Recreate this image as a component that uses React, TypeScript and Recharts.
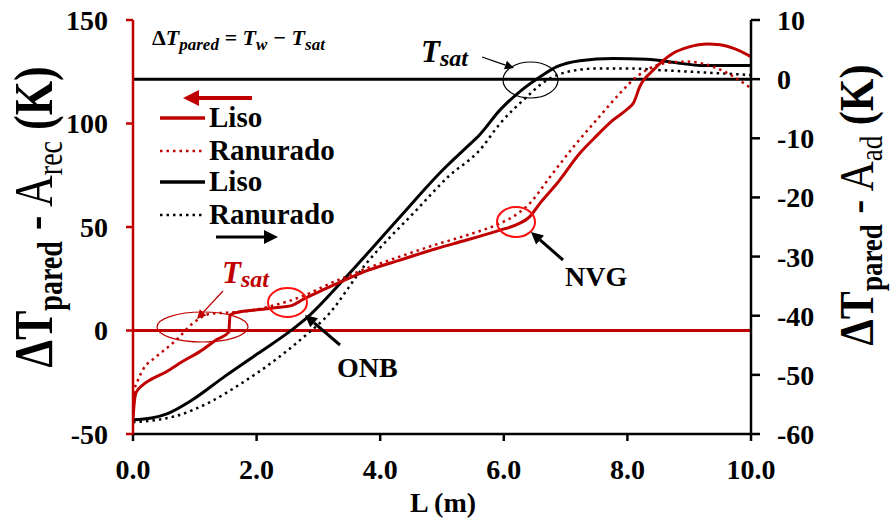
import React from "react";
import { LineChart, Line, XAxis, YAxis, ReferenceLine } from "recharts";

const RED = "#c00000";
const BRIGHT = "#ff1010";
const FONT = "'Liberation Serif', 'Times New Roman', serif";

// L (m)
const xTicks = [0, 2, 4, 6, 8, 10];
const leftTicks = [-50, 0, 50, 100, 150];
const rightTicks = [-60, -50, -40, -30, -20, -10, 0, 10];

// Red series (left axis, ΔT_pared - A_rec)
const redLisoL = [0, 0.02, 0.05, 0.16, 0.3, 0.54, 0.8, 1.08, 1.35, 1.55, 1.57, 1.65, 2.0, 2.3, 2.56, 2.78, 3.1, 3.4, 3.8, 4.32, 4.9, 5.4, 5.94, 6.2, 6.42, 6.6, 6.86, 7.23, 7.5, 7.77, 8.0, 8.1, 8.2, 8.42, 8.74, 9.0, 9.29, 9.5, 9.72, 10];
const redLisoV = [-43, -35, -30, -26.3, -23.5, -19.9, -15, -10.2, -4.5, -0.8, 7.5, 8.5, 10, 11, 12, 15.5, 20, 24, 29, 34, 39.5, 43.7, 48.5, 51, 55, 62, 71, 85.6, 94, 101.7, 107, 110, 117.8, 125.8, 133.9, 137, 138.4, 138, 136.3, 132.3];

const redRanL = [0, 0.03, 0.08, 0.16, 0.38, 0.7, 0.97, 1.24, 1.51, 1.8, 2.3, 2.78, 3.1, 3.78, 4.3, 4.9, 5.4, 5.94, 6.15, 6.42, 6.75, 7.13, 7.5, 7.88, 8.15, 8.31, 8.58, 8.96, 9.39, 9.72, 10];
const redRanV = [-40, -28, -24, -19, -12.6, -4.6, 3.5, 8, 8.6, 9.2, 12.3, 17, 21.5, 30, 35.5, 41.5, 46, 51.8, 55, 61.4, 74.3, 88.8, 101.7, 114.6, 122.6, 125.8, 129, 129.9, 127.4, 122.6, 117];

// Black series (right axis, ΔT_pared - A_ad)
const blkLisoL = [0, 0.3, 0.57, 0.95, 1.48, 2.02, 2.57, 2.83, 3.4, 4.32, 5.0, 5.4, 5.61, 5.94, 6.26, 6.59, 6.86, 7.23, 7.77, 8.31, 8.85, 9.18, 10];
const blkLisoV = [-57.6, -57.3, -56.5, -54.3, -50.3, -46.4, -42.4, -40.2, -34, -23.3, -15.5, -11.5, -9.4, -5.2, -2.1, 0.4, 2.1, 3.1, 3.5, 3.35, 2.7, 2.3, 2.3];

const blkRanL = [0, 0.4, 0.68, 1.21, 1.76, 2.3, 2.83, 3.1, 3.78, 4.59, 5.1, 5.61, 5.94, 6.32, 6.7, 7.02, 7.5, 8.04, 8.58, 9.12, 10];
const blkRanV = [-58, -57.6, -57, -54.8, -51.4, -47.5, -43, -40.5, -31.1, -22.1, -16.5, -12, -7.5, -3.5, -0.15, 1.2, 1.8, 1.8, 1.5, 1.2, 0.7];

const zip = (xs: number[], ys: number[]) => xs.map((L, i) => ({ L, v: ys[i] }));
const redLiso = zip(redLisoL, redLisoV);
const redRan = zip(redRanL, redRanV);
const blkLiso = zip(blkLisoL, blkLisoV);
const blkRan = zip(blkRanL, blkRanV);

function Arrow({ x1, y1, x2, y2, color, width, head }: any) {
  const ang = Math.atan2(y2 - y1, x2 - x1);
  const len = head;
  const w = head * 0.5;
  const bx = x2 - Math.cos(ang) * len;
  const by = y2 - Math.sin(ang) * len;
  const px = -Math.sin(ang) * w;
  const py = Math.cos(ang) * w;
  return (
    <g>
      <line x1={x1} y1={y1} x2={bx} y2={by} stroke={color} strokeWidth={width} />
      <polygon points={`${x2},${y2} ${bx + px},${by + py} ${bx - px},${by - py}`} fill={color} />
    </g>
  );
}

const tickStyle = { fontFamily: FONT, fontSize: 28, fontWeight: 700, fill: "#000" };

export default function App() {
  return (
    <div style={{ position: "absolute", left: 0, top: 0, width: 892, height: 521, background: "#fff" }}>
      <LineChart width={892} height={521} margin={{ top: 20, right: 0, bottom: 0, left: 0 }}>
        <XAxis
          type="number"
          dataKey="L"
          domain={[0, 10]}
          ticks={xTicks}
          tickFormatter={(v: number) => v.toFixed(1)}
          height={87}
          tickSize={7}
          tickMargin={18}
          stroke="#000"
          strokeWidth={2.5}
          tick={tickStyle}
          allowDataOverflow
        />
        <YAxis
          yAxisId="left"
          domain={[-50, 150]}
          ticks={leftTicks}
          width={133}
          tickSize={7}
          tickMargin={18}
          stroke={RED}
          strokeWidth={2.5}
          tick={tickStyle}
          allowDataOverflow
        />
        <YAxis
          yAxisId="right"
          orientation="right"
          domain={[-60, 10]}
          ticks={rightTicks}
          width={141}
          tickSize={9}
          tickMargin={17}
          stroke="#000"
          strokeWidth={2.5}
          tick={tickStyle}
          allowDataOverflow
        />
        <ReferenceLine yAxisId="left" y={0} stroke={RED} strokeWidth={3} />
        <ReferenceLine yAxisId="right" y={0} stroke="#000" strokeWidth={3} />
        <Line yAxisId="right" data={blkRan} dataKey="v" type="monotone" dot={false} stroke="#000" strokeWidth={2.5} strokeDasharray="2.5 4" isAnimationActive={false} />
        <Line yAxisId="right" data={blkLiso} dataKey="v" type="monotone" dot={false} stroke="#000" strokeWidth={3} isAnimationActive={false} />
        <Line yAxisId="left" data={redRan} dataKey="v" type="monotone" dot={false} stroke={RED} strokeWidth={2.5} strokeDasharray="2.5 4" isAnimationActive={false} />
        <Line yAxisId="left" data={redLiso} dataKey="v" type="monotone" dot={false} stroke={RED} strokeWidth={3} isAnimationActive={false} />
      </LineChart>
      <svg width={892} height={521} style={{ position: "absolute", left: 0, top: 0, pointerEvents: "none" }}>
        {/* axis titles */}
        <text transform="translate(52,217) rotate(-90) scale(1,1.25)" textAnchor="middle" fontFamily={FONT} fill="#000">
          <tspan fontSize={44} fontWeight={700}>ΔT</tspan>
          <tspan fontSize={28} fontWeight={700} dy={8}>pared</tspan>
          <tspan fontSize={44} fontWeight={400} dy={-8}> - A</tspan>
          <tspan fontSize={28} fontWeight={400} dy={8}>rec</tspan>
          <tspan fontSize={44} fontWeight={700} dy={-8}> (K)</tspan>
        </text>
        <text transform="translate(873,205) rotate(-90) scale(1,1.15)" textAnchor="middle" fontFamily={FONT} fill="#000">
          <tspan fontSize={42} fontWeight={700}>ΔT</tspan>
          <tspan fontSize={27} fontWeight={700} dy={8}>pared</tspan>
          <tspan fontSize={42} fontWeight={400} dy={-8}> - A</tspan>
          <tspan fontSize={27} fontWeight={400} dy={8}>ad</tspan>
          <tspan fontSize={42} fontWeight={700} dy={-8}> (K)</tspan>
        </text>
        <text x={443} y={512} textAnchor="middle" fontFamily={FONT} fontSize={28} fontWeight={700}>L (m)</text>

        {/* formula */}
        <text x={152} y={45} fontFamily={FONT} fontStyle="italic" fontWeight={700} fontSize={22} fill="#000">
          <tspan fontStyle="normal">Δ</tspan>
          <tspan>T</tspan>
          <tspan fontSize={17} dy={5}>pared</tspan>
          <tspan dy={-5}> = T</tspan>
          <tspan fontSize={17} dy={5}>w</tspan>
          <tspan dy={-5}> − T</tspan>
          <tspan fontSize={17} dy={5}>sat</tspan>
        </text>

        {/* legend */}
        <Arrow x1={252} y1={98} x2={183} y2={98} color={RED} width={4} head={16} />
        <line x1={160} y1={118} x2={205} y2={118} stroke={RED} strokeWidth={3.5} />
        <line x1={160} y1={151} x2={205} y2={151} stroke={RED} strokeWidth={2.5} strokeDasharray="2.5 4" />
        <line x1={160} y1={182} x2={205} y2={182} stroke="#000" strokeWidth={3.5} />
        <line x1={160} y1={215} x2={205} y2={215} stroke="#000" strokeWidth={2.5} strokeDasharray="2.5 4" />
        <Arrow x1={216} y1={237} x2={278} y2={237} color="#000" width={3} head={14} />
        <g fontFamily={FONT} fontSize={29} fontWeight={700} fill="#000">
          <text x={209} y={127}>Liso</text>
          <text x={209} y={160}>Ranurado</text>
          <text x={209} y={191}>Liso</text>
          <text x={209} y={224}>Ranurado</text>
        </g>

        {/* black Tsat annotation */}
        <text x={421} y={62} fontFamily={FONT} fontStyle="italic" fontWeight={700} fill="#000">
          <tspan fontSize={31}>T</tspan>
          <tspan fontSize={24} dy={4}>sat</tspan>
        </text>
        <Arrow x1={482} y1={57} x2={514} y2={68} color="#000" width={1.3} head={9} />
        <ellipse cx={530.5} cy={80} rx={27.5} ry={18} fill="none" stroke="#000" strokeWidth={1.2} />

        {/* red Tsat annotation */}
        <text x={222} y={283} fontFamily={FONT} fontStyle="italic" fontWeight={700} fill={RED}>
          <tspan fontSize={31}>T</tspan>
          <tspan fontSize={24} dy={4}>sat</tspan>
        </text>
        <Arrow x1={223} y1={291} x2={197} y2={319} color={RED} width={1.3} head={9} />
        <ellipse cx={202.5} cy={327} rx={45.5} ry={15} fill="none" stroke={RED} strokeWidth={1.2} />

        {/* ONB */}
        <ellipse cx={287.5} cy={302.5} rx={19.5} ry={14.5} fill="none" stroke={BRIGHT} strokeWidth={2} />
        <Arrow x1={340} y1={345} x2={305} y2={315} color="#000" width={3} head={12} />
        <text x={337} y={377} fontFamily={FONT} fontSize={28} fontWeight={700}>ONB</text>

        {/* NVG */}
        <ellipse cx={516} cy={222} rx={19} ry={15} fill="none" stroke={BRIGHT} strokeWidth={2} />
        <Arrow x1={563} y1={260} x2={531} y2={232} color="#000" width={3} head={12} />
        <text x={565} y={286} fontFamily={FONT} fontSize={28} fontWeight={700}>NVG</text>
      </svg>
    </div>
  );
}
